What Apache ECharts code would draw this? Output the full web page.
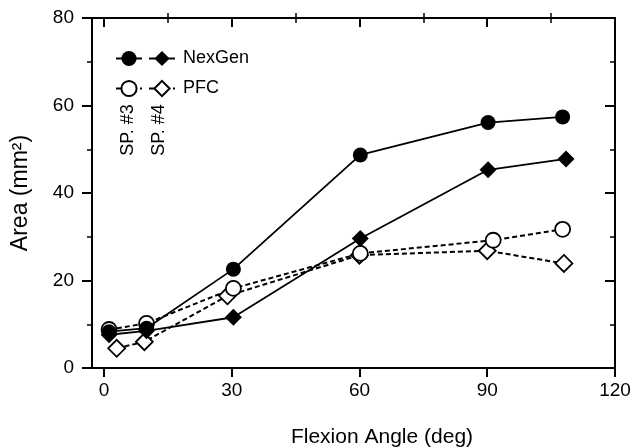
<!DOCTYPE html>
<html>
<head>
<meta charset="utf-8">
<script src="https://cdn.jsdelivr.net/npm/echarts@6/dist/echarts.min.js"></script>
<style>
  html, body { margin: 0; padding: 0; background: #fff; }
  #chart { width: 635px; height: 448px; }
</style>
</head>
<body>
<div id="chart"></div>
<script>
// flexion angle (deg) / contact area (mm2)
var nexGen3X = [1.2, 10, 30.4, 60.2, 90.2, 107.7];
var nexGen3Y = [8.3, 9.1, 22.6, 48.7, 56.1, 57.4];
var nexGen4X = [1.2, 10, 30.4, 60.2, 90.2, 108.5];
var nexGen4Y = [7.6, 8.5, 11.6, 29.6, 45.3, 47.8];
var pfc3X = [1.2, 10, 30.4, 60.2, 91.4, 107.7];
var pfc3Y = [8.8, 10.2, 18.2, 26.2, 29.2, 31.7];
var pfc4X = [3, 9.5, 29, 60, 90, 108];
var pfc4Y = [4.5, 6.0, 16.5, 25.8, 26.8, 23.9];

var xMajorTicks = [0, 30, 60, 90, 120];
var xMinorTicks = [15, 45, 75, 105];

var FONT = "'Liberation Sans', Arial, sans-serif";
var chart = echarts.init(document.getElementById("chart"));

function pairs(xs, ys) {
  return xs.map(function (x, i) {
    return [x, ys[i]];
  });
}

// one specimen line
function makeSeries(name, xs, ys, symbol, filled, dashed) {
  return {
    name: name,
    type: "line",
    data: pairs(xs, ys),
    symbol: symbol,
    symbolSize: symbol == "circle" ? 15 : 17,
    lineStyle: {
      color: "#000",
      width: dashed ? 2 : 1.8,
      type: dashed ? [5, 3] : "solid"
    },
    itemStyle: {
      color: filled ? "#000" : "#fff",
      borderColor: "#000",
      borderWidth: filled ? 0 : 1.8
    },
    emphasis: { disabled: true },
    z: filled ? 3 : 2
  };
}

// x axes: ticks cross the axis line, so one axis draws them outside and one inside
function xAxisPart(ticks, len, inside, withLine) {
  return {
    type: "value",
    min: -2.8,
    max: 120,
    axisLine: { show: withLine, onZero: false, lineStyle: { color: "#000", width: 2 } },
    axisTick: {
      show: true,
      customValues: ticks,
      length: len,
      inside: inside,
      lineStyle: { color: "#000", width: len > 6 ? 2 : 1.5 }
    },
    axisLabel: {
      show: withLine,
      customValues: xMajorTicks,
      margin: 13,
      color: "#000",
      fontSize: 19,
      fontFamily: FONT
    },
    splitLine: { show: false }
  };
}

function yAxisPart(inside, withLine) {
  return {
    type: "value",
    min: 0,
    max: 80,
    interval: 20,
    name: withLine ? "Area (mm\u00b2)" : "",
    nameLocation: "middle",
    nameRotate: 90,
    nameGap: 60,
    nameTextStyle: { color: "#000", fontSize: 23, fontFamily: FONT },
    axisLine: { show: withLine, onZero: false, lineStyle: { color: "#000", width: 2 } },
    axisTick: { show: true, length: 10, inside: inside, lineStyle: { color: "#000", width: 2 } },
    minorTick: { show: true, splitNumber: 2, length: 5, lineStyle: { color: "#000", width: 1.5 } },
    axisLabel: {
      show: withLine,
      margin: 18,
      color: "#000",
      fontSize: 19,
      fontFamily: FONT
    },
    splitLine: { show: false },
    minorSplitLine: { show: false }
  };
}

// two legend columns side by side: circles (SP #3) then diamonds (SP #4) with the text
function legendPart(names, left, showText) {
  return {
    data: names,
    left: left,
    top: 44,
    orient: "vertical",
    itemWidth: 26,
    itemHeight: 19,
    itemGap: 11,
    selectedMode: false,
    formatter: function (name) {
      return showText ? name.split(" ")[0] : " ";
    },
    textStyle: { color: "#000", fontSize: 18, lineHeight: 19, fontFamily: FONT, padding: [0, 0, 0, 3] }
  };
}

var option = {
  animation: false,
  backgroundColor: "#fff",
  grid: {
    left: 92,
    right: 20,
    top: 18,
    bottom: 80,
    show: true,
    borderColor: "#000",
    borderWidth: 2,
    backgroundColor: "transparent"
  },
  title: {
    text: "Flexion Angle (deg)",
    left: 377,
    top: 422,
    textAlign: "center",
    textStyle: { color: "#000", fontSize: 21, fontWeight: "normal", fontFamily: FONT }
  },
  legend: [
    legendPart(["NexGen SP#3", "PFC SP#3"], 110, false),
    legendPart(["NexGen SP#4", "PFC SP#4"], 143, true)
  ],
  graphic: [
    {
      type: "text",
      x: 128,
      y: 130,
      rotation: Math.PI / 2,
      style: { text: "SP. #3", fill: "#000", font: "18px " + FONT, align: "center", verticalAlign: "middle" }
    },
    {
      type: "text",
      x: 159,
      y: 130,
      rotation: Math.PI / 2,
      style: { text: "SP. #4", fill: "#000", font: "18px " + FONT, align: "center", verticalAlign: "middle" }
    }
  ],
  xAxis: [
    xAxisPart(xMajorTicks, 9, false, true),
    xAxisPart(xMajorTicks, 9, true, false),
    xAxisPart(xMinorTicks, 5, false, false),
    xAxisPart(xMinorTicks, 5, true, false)
  ],
  yAxis: [yAxisPart(false, true), yAxisPart(true, false)],
  series: [
    makeSeries("PFC SP#4", pfc4X, pfc4Y, "diamond", false, true),
    makeSeries("PFC SP#3", pfc3X, pfc3Y, "circle", false, true),
    makeSeries("NexGen SP#4", nexGen4X, nexGen4Y, "diamond", true, false),
    makeSeries("NexGen SP#3", nexGen3X, nexGen3Y, "circle", true, false)
  ]
};

chart.setOption(option);
</script>
</body>
</html>
